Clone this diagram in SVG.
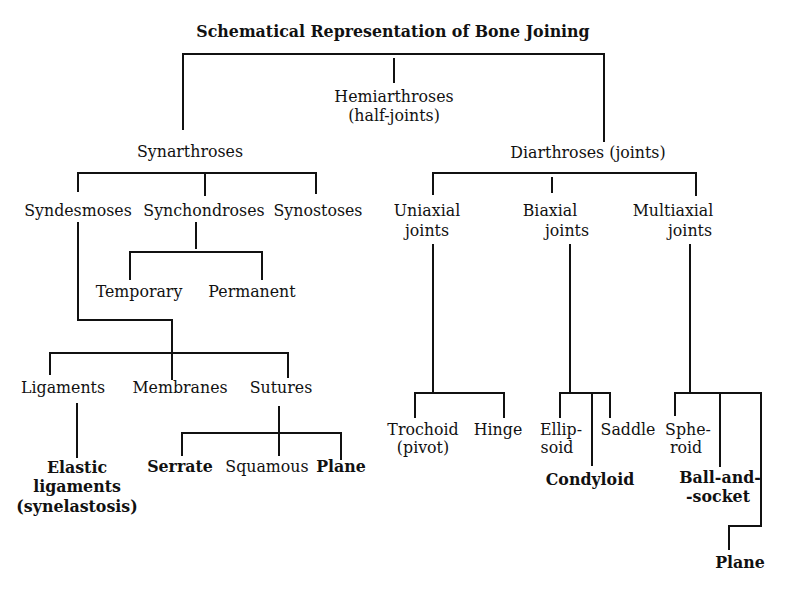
<svg xmlns="http://www.w3.org/2000/svg" width="800" height="600" viewBox="0 0 800 600">
<style>
text{font-family:"DejaVu Serif","Liberation Serif",serif;font-size:15.8px;fill:#111;text-anchor:middle}
.t{font-weight:bold;font-size:15.8px}
.b{font-weight:bold}
.c line,.c path{stroke:#111;stroke-width:2;fill:none}
</style>
<rect width="800" height="600" fill="#fff"/>
<text id="title" class="t" x="393" y="37">Schematical Representation of Bone Joining</text>
<g class="c" id="connectors">
<path d="M183,130 V54 H604 V142"/>
<line x1="394" y1="58" x2="394" y2="83"/>
<path d="M78,192 V173 H316 V194"/>
<line x1="205" y1="173" x2="205" y2="196"/>
<line x1="196" y1="222" x2="196" y2="249"/>
<path d="M130,280 V252 H262 V280"/>
<path d="M78,222 V320 H172 V380"/>
<path d="M50,375 V353 H288 V378"/>
<line x1="77" y1="403" x2="77" y2="458"/>
<line x1="279" y1="406" x2="279" y2="433"/>
<path d="M182,456 V433 H341 V460"/>
<line x1="279" y1="433" x2="279" y2="456"/>
<path d="M433,195 V173 H696 V196"/>
<line x1="552" y1="177" x2="552" y2="193"/>
<line x1="433" y1="244" x2="433" y2="393"/>
<line x1="570" y1="244" x2="570" y2="393"/>
<line x1="690" y1="244" x2="690" y2="393"/>
<path d="M415,418 V393 H504 V418"/>
<path d="M560,418 V393 H610 V418"/>
<line x1="592" y1="393" x2="592" y2="466"/>
<path d="M675,416 V393 H761 V526 H729 V550"/>
<line x1="720" y1="393" x2="720" y2="467"/>
</g>
<g id="hemiarthroses"><text x="394" y="102">Hemiarthroses</text><text x="394" y="121">(half-joints)</text></g>
<g id="synarthroses"><text x="190" y="157">Synarthroses</text></g>
<g id="diarthroses"><text x="588" y="158">Diarthroses (joints)</text></g>
<g id="syndesmoses"><text x="78" y="216">Syndesmoses</text></g>
<g id="synchondroses"><text x="204" y="216">Synchondroses</text></g>
<g id="synostoses"><text x="318" y="216">Synostoses</text></g>
<g id="temporary"><text x="139" y="297">Temporary</text></g>
<g id="permanent"><text x="252" y="297">Permanent</text></g>
<g id="ligaments"><text x="63" y="393">Ligaments</text></g>
<g id="membranes"><text x="180" y="393">Membranes</text></g>
<g id="sutures"><text x="281" y="393">Sutures</text></g>
<g id="elastic"><text class="b" x="77" y="473">Elastic</text><text class="b" x="77" y="492">ligaments</text><text class="b" x="77" y="512">(synelastosis)</text></g>
<g id="serrate"><text class="b" x="180" y="472">Serrate</text></g>
<g id="squamous"><text x="267" y="472">Squamous</text></g>
<g id="plane1"><text class="b" x="341" y="472">Plane</text></g>
<g id="uniaxial"><text x="427" y="216">Uniaxial</text><text x="427" y="236">joints</text></g>
<g id="biaxial"><text x="550" y="216">Biaxial</text><text x="567" y="236">joints</text></g>
<g id="multiaxial"><text x="673" y="216">Multiaxial</text><text x="690" y="236">joints</text></g>
<g id="trochoid"><text x="423" y="435">Trochoid</text><text x="423" y="453">(pivot)</text></g>
<g id="hinge"><text x="498" y="435">Hinge</text></g>
<g id="ellipsoid"><text x="561" y="435">Ellip-</text><text x="557" y="453">soid</text></g>
<g id="saddle"><text x="628" y="435">Saddle</text></g>
<g id="condyloid"><text class="b" x="590" y="485">Condyloid</text></g>
<g id="spheroid"><text x="688" y="435">Sphe-</text><text x="686" y="453">roid</text></g>
<g id="ballsocket"><text class="b" x="720" y="483">Ball-and-</text><text class="b" x="718" y="502">-socket</text></g>
<g id="plane2"><text class="b" x="740" y="568">Plane</text></g>
</svg>
